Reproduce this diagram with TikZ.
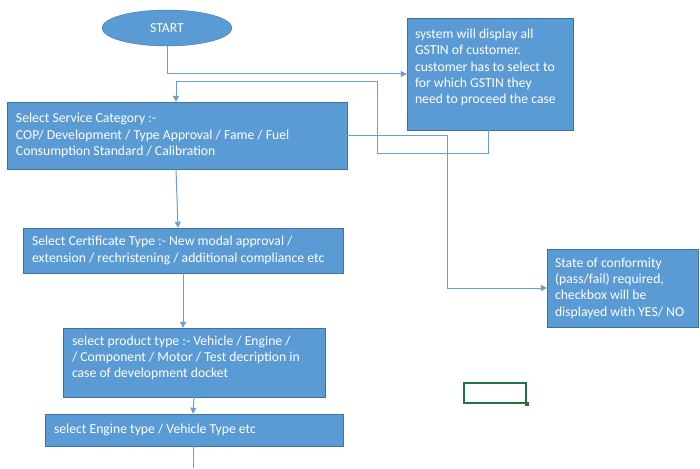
\documentclass[tikz,border=0pt]{standalone}
\usepackage{fontspec}
\setmainfont{Carlito}
\usepackage{tikz}
\usetikzlibrary{arrows.meta, shapes, positioning, calc}

\definecolor{boxblue}{HTML}{5B9BD5}
\definecolor{edgeblue}{HTML}{41719C}
\definecolor{lineblue}{HTML}{6A9FD4}
\definecolor{cellgreen}{HTML}{217346}

\begin{document}
\begin{tikzpicture}[
      x=1pt, y=-1pt,
      >={Triangle[width=6pt,length=6pt]},
      font=\fontsize{13.7}{16.3}\selectfont,
      block/.style = {
        draw=edgeblue,
        fill=boxblue,
        text=white,
        rectangle,
        inner xsep=9pt,
        align=flush left
      },
      link/.style = {
        draw=lineblue,
        line width=1pt
      }
    ]

    \useasboundingbox[fill=white] (0,0) rectangle (700,468);

    \node[draw=edgeblue, fill=boxblue, ellipse, text=white,
          minimum width=130pt, minimum height=36pt] (start) at (167,28) {START};

    \node[block, minimum width=166pt, minimum height=112pt, text width=150pt, inner xsep=8pt] (gstin) at (490,74)
      {system will display all\\GSTIN of customer.\\customer has to select to\\for which GSTIN they\\need to proceed the case\\[-1pt]\mbox{}};

    \node[block, minimum width=340pt, minimum height=67pt, text width=322pt] (service) at (177,135.5)
      {Select Service Category :-\\COP/ Development / Type Approval / Fame / Fuel\\Consumption Standard / Calibration};

    \node[block, minimum width=320pt, minimum height=45pt, text width=302pt] (cert) at (183,250.5)
      {Select Certificate Type :- New modal approval /\\extension / rechristening / additional compliance etc};

    \node[block, minimum width=262pt, minimum height=69pt, text width=244pt] (product) at (194,362.5)
      {select product type :- Vehicle / Engine /\\/ Component / Motor / Test decription in\\case of development docket\\[-5pt]\mbox{}};

    \node[block, minimum width=298pt, minimum height=32pt, text width=280pt] (engine) at (194,430)
      {select Engine type / Vehicle Type etc};

    \node[block, minimum width=151pt, minimum height=78pt, text width=135pt, inner xsep=8pt] (state) at (622.5,288)
      {State of conformity\\(pass/fail) required,\\checkbox will be\\displayed with YES/ NO};

    \coordinate (next) at (193,468);

    \draw[link, ->] (start.south) |- (gstin.west);
    \draw[link, ->] ([xshift=-2pt]gstin.south) -- ++(0,23) -| ++(-111,-72) -| ([xshift=-1pt]service.north);
    \draw[link, ->] (service.east) -- ++(100,0) |- (state.west);

    \draw[link, ->] ([xshift=-1pt]service.south) -- ([xshift=-5pt]cert.north);
    \draw[link, ->] (cert.south) -- (cert.south |- product.north);
    \draw[link, ->] (product.south) -- ([xshift=-1pt]engine.north);
    \draw[link] ([xshift=-1pt]engine.south) -- (next);

    \node[draw=cellgreen, line width=1.5pt, minimum width=62pt, minimum height=20pt,
          inner sep=0pt] (cell) at (495,393) {};
    \node[fill=cellgreen, minimum size=4pt, inner sep=0pt] (handle) at (cell.south east) {};

  \end{tikzpicture}
\end{document}
